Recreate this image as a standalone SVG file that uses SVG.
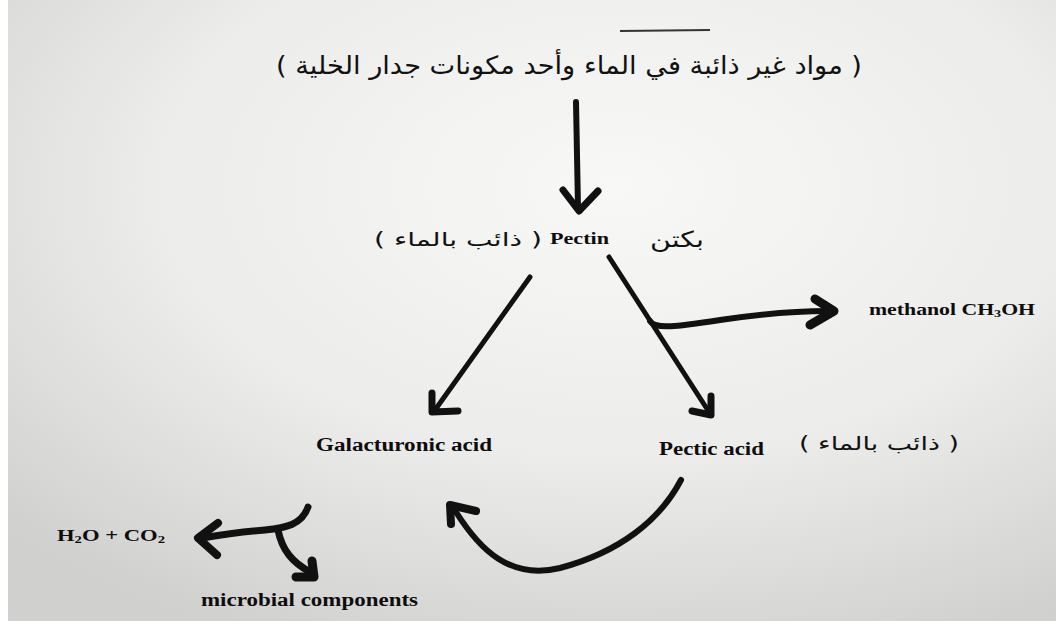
<svg xmlns="http://www.w3.org/2000/svg" width="1056" height="629" viewBox="0 0 1056 629">
<defs>
<radialGradient id="bg" cx="0.58" cy="0.3" r="0.8">
<stop offset="0" stop-color="#f8f8f6"/>
<stop offset="0.55" stop-color="#ececea"/>
<stop offset="1" stop-color="#d0d0ce"/>
</radialGradient>
<style>
.en{font-family:"Liberation Serif","Times New Roman",serif;font-weight:bold;fill:#0d0d0d;}
.ar{font-family:"DejaVu Sans","Noto Sans",sans-serif;fill:#111;}
.ln{fill:none;stroke:#111;stroke-linecap:round;stroke-linejoin:round;}
</style>
</defs>
<rect width="1056" height="629" fill="#ffffff"/>
<rect x="8" y="0" width="1048" height="621" fill="url(#bg)"/>
<line x1="620" y1="31" x2="710" y2="30" stroke="#333" stroke-width="1.8"/>

<g id="node-insoluble">
<text class="ar" x="569" y="74" font-size="25" text-anchor="middle" direction="rtl" textLength="586" lengthAdjust="spacingAndGlyphs">( مواد غير ذائبة في الماء وأحد مكونات جدار الخلية )</text>
</g>
<g id="node-pectin">
<text class="ar" x="458" y="246" font-size="19" text-anchor="middle" direction="rtl" textLength="168" lengthAdjust="spacingAndGlyphs">( ذائب بالماء )</text>
<text class="en" x="550" y="244" font-size="17" textLength="59" lengthAdjust="spacingAndGlyphs">Pectin</text>
<text class="ar" x="677" y="247" font-size="22" text-anchor="middle" direction="rtl" textLength="54" lengthAdjust="spacingAndGlyphs">بكتن</text>
</g>
<g id="node-methanol">
<text class="en" x="869" y="315" font-size="17" textLength="166" lengthAdjust="spacingAndGlyphs">methanol CH<tspan font-size="11" dy="2">3</tspan><tspan dy="-2">OH</tspan></text>
</g>
<g id="node-galacturonic">
<text class="en" x="316" y="451" font-size="18" textLength="176" lengthAdjust="spacingAndGlyphs">Galacturonic acid</text>
</g>
<g id="node-pectic">
<text class="en" x="659" y="455" font-size="18" textLength="105" lengthAdjust="spacingAndGlyphs">Pectic acid</text>
<text class="ar" x="879" y="450" font-size="19" text-anchor="middle" direction="rtl" textLength="160" lengthAdjust="spacingAndGlyphs">( ذائب بالماء )</text>
</g>
<g id="node-h2o">
<text class="en" x="57" y="541" font-size="17" textLength="108" lengthAdjust="spacingAndGlyphs">H<tspan font-size="11" dy="2">2</tspan><tspan dy="-2">O + CO</tspan><tspan font-size="11" dy="2">2</tspan></text>
</g>
<g id="node-microbial">
<text class="en" x="201" y="606" font-size="18" textLength="217" lengthAdjust="spacingAndGlyphs">microbial components</text>
</g>

<g id="connectors">
<line class="ln" x1="576" y1="102" x2="578" y2="208" stroke-width="6"/>
<polyline class="ln" points="563,190 579,211 598,191" stroke-width="7"/>

<line class="ln" x1="530" y1="277" x2="435" y2="410" stroke-width="5"/>
<polyline class="ln" points="432,393 432,412 458,411" stroke-width="7"/>

<line class="ln" x1="609" y1="257" x2="709" y2="412" stroke-width="5"/>
<polyline class="ln" points="711,396 711,415 692,411" stroke-width="7"/>

<path class="ln" d="M650,321 C655,330 680,326 720,320 C760,314 795,311 828,311" stroke-width="6"/>
<polyline class="ln" points="815,299 834,311 810,325" stroke-width="9"/>

<path class="ln" d="M681,480 C660,520 620,552 560,568 C510,580 480,550 456,512" stroke-width="6"/>
<polyline class="ln" points="451,524 450,505 476,511" stroke-width="8"/>

<path class="ln" d="M308,507 C302,525 285,528 265,530 C240,532 220,535 202,538" stroke-width="7"/>
<polyline class="ln" points="218,523 198,538 217,555" stroke-width="8"/>
<path class="ln" d="M278,530 C282,550 292,562 310,572" stroke-width="7"/>
<polyline class="ln" points="296,577 314,577 312,561" stroke-width="9"/>
</g>
</svg>
